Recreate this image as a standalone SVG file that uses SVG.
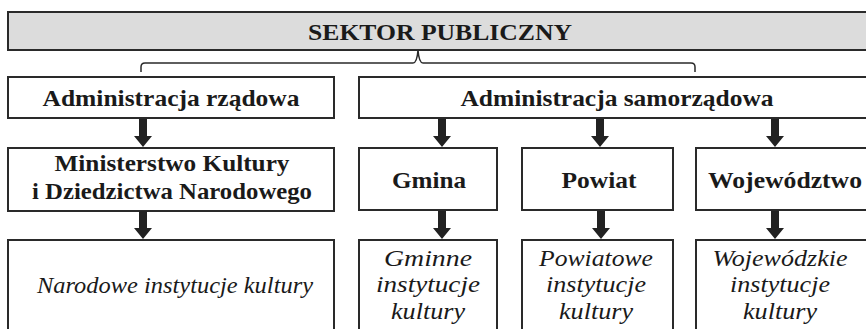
<svg xmlns="http://www.w3.org/2000/svg" width="866" height="329" viewBox="0 0 866 329">
<defs>
<style>
.box{fill:#ffffff;stroke:#2a2a2a;stroke-width:2}
.top{fill:#dcdcdc;stroke:#2a2a2a;stroke-width:2}
.arr{fill:#222222}
.brace{fill:none;stroke:#2a2a2a;stroke-width:1.5}
</style>
<path id="ar" d="M-4,0 H4 V17 H9 L0,28 L-9,17 H-4 Z"/>
</defs>
<rect width="866" height="329" fill="#ffffff"/>
<g font-family="Liberation Serif, Times New Roman, serif" fill="#1a1a1a" text-anchor="middle">
<g font-weight="bold" font-size="23">
<g id="sektor">
<rect class="top" x="8" y="12" width="870" height="38"/>
<text x="440" y="40" font-size="24" textLength="264" lengthAdjust="spacingAndGlyphs">SEKTOR PUBLICZNY</text>
</g>
<g id="adm-rzad">
<rect class="box" x="8" y="77" width="326" height="41"/>
<text x="171" y="106" textLength="257" lengthAdjust="spacingAndGlyphs">Administracja rządowa</text>
</g>
<g id="adm-samo">
<rect class="box" x="359" y="77" width="520" height="41"/>
<text x="617" y="106" textLength="313" lengthAdjust="spacingAndGlyphs">Administracja samorządowa</text>
</g>
<g id="ministerstwo">
<rect class="box" x="8" y="148" width="326" height="63"/>
<text x="172" y="171" textLength="235" lengthAdjust="spacingAndGlyphs">Ministerstwo Kultury</text>
<text x="172" y="199" textLength="280" lengthAdjust="spacingAndGlyphs">i Dziedzictwa Narodowego</text>
</g>
<g id="gmina">
<rect class="box" x="359" y="148" width="138" height="62"/>
<text x="429" y="188" textLength="74" lengthAdjust="spacingAndGlyphs">Gmina</text>
</g>
<g id="powiat">
<rect class="box" x="522" y="148" width="151" height="62"/>
<text x="599" y="188" textLength="75" lengthAdjust="spacingAndGlyphs">Powiat</text>
</g>
<g id="wojewodztwo">
<rect class="box" x="696" y="148" width="183" height="62"/>
<text x="785" y="188" textLength="154" lengthAdjust="spacingAndGlyphs">Województwo</text>
</g>
</g>
<g font-style="italic" font-size="24">
<g id="narodowe">
<rect class="box" x="8" y="240" width="326" height="110"/>
<text x="175" y="293" textLength="276" lengthAdjust="spacingAndGlyphs">Narodowe instytucje kultury</text>
</g>
<g id="gminne">
<rect class="box" x="359" y="240" width="138" height="110"/>
<text x="428" y="266" textLength="88" lengthAdjust="spacingAndGlyphs">Gminne</text>
<text x="428" y="292" textLength="104" lengthAdjust="spacingAndGlyphs">instytucje</text>
<text x="428" y="319" textLength="74" lengthAdjust="spacingAndGlyphs">kultury</text>
</g>
<g id="powiatowe">
<rect class="box" x="522" y="240" width="151" height="110"/>
<text x="596" y="266" textLength="114" lengthAdjust="spacingAndGlyphs">Powiatowe</text>
<text x="596" y="292" textLength="100" lengthAdjust="spacingAndGlyphs">instytucje</text>
<text x="596" y="319" textLength="74" lengthAdjust="spacingAndGlyphs">kultury</text>
</g>
<g id="wojewodzkie">
<rect class="box" x="696" y="240" width="183" height="110"/>
<text x="780" y="266" textLength="135" lengthAdjust="spacingAndGlyphs">Wojewódzkie</text>
<text x="780" y="292" textLength="100" lengthAdjust="spacingAndGlyphs">instytucje</text>
<text x="780" y="319" textLength="74" lengthAdjust="spacingAndGlyphs">kultury</text>
</g>
</g>
</g>
<g id="connectors">
<path class="brace" d="M141,72 V67 Q141,63 145,63 H413 Q417,63 418,50 Q419,63 423,63 H691 Q695,63 695,67 V72"/>
<use href="#ar" class="arr" x="143" y="119"/>
<use href="#ar" class="arr" x="442" y="119"/>
<use href="#ar" class="arr" x="600" y="119"/>
<use href="#ar" class="arr" x="775" y="119"/>
<use href="#ar" class="arr" x="143" y="211"/>
<use href="#ar" class="arr" x="442" y="211"/>
<use href="#ar" class="arr" x="601" y="211"/>
<use href="#ar" class="arr" x="775" y="211"/>
</g>
</svg>
